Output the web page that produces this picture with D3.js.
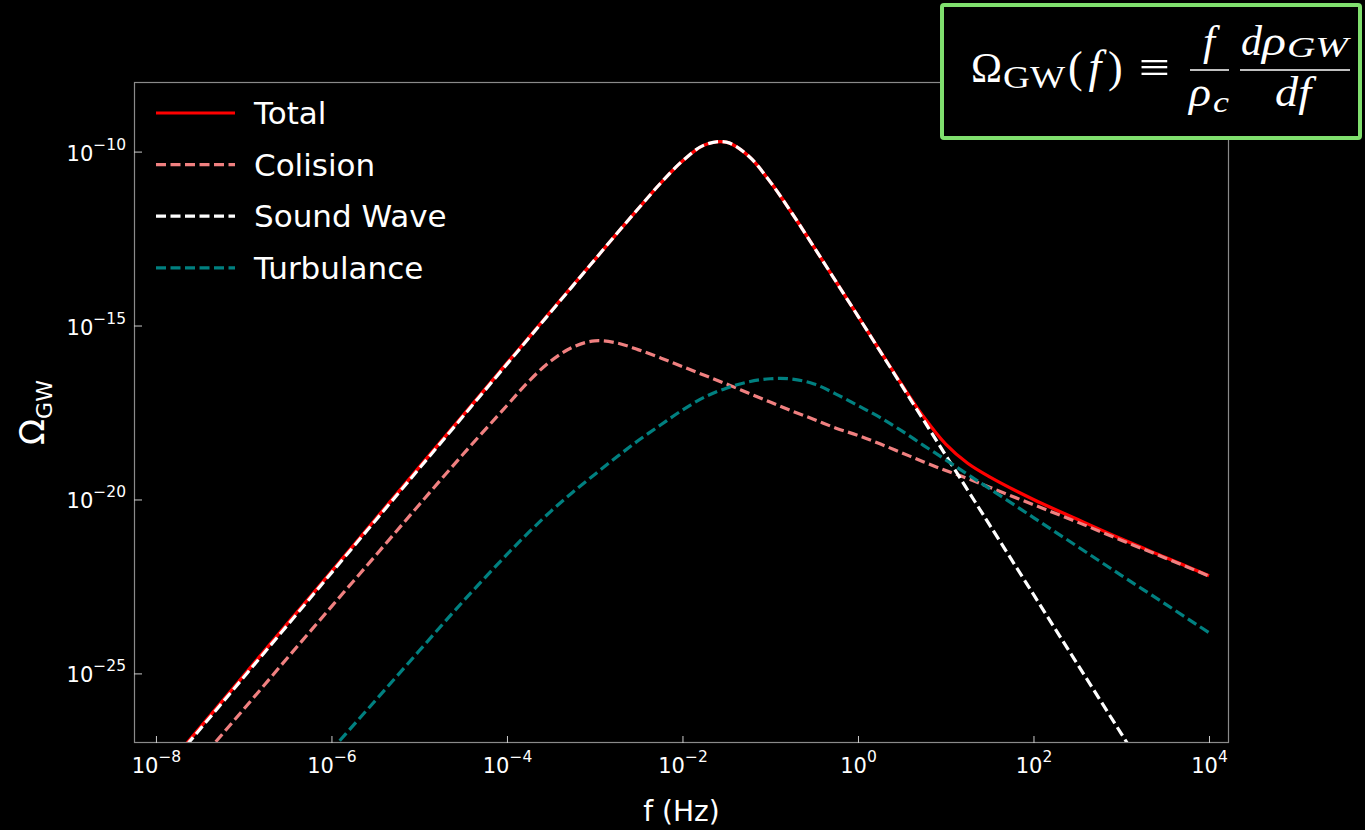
<!DOCTYPE html>
<html>
<head>
<meta charset="utf-8">
<script src="https://cdn.jsdelivr.net/npm/d3@7"></script>
<style>
  html, body { margin: 0; padding: 0; background: #000; }
  svg { display: block; }
</style>
</head>
<body>
<div id="graph"></div>
<script>
// log10 of the frequency (Hz) where the curves were read
const logFreq = [-8.5, -8, -7.5, -7, -6.5, -6, -5.5, -5, -4.5, -4, -3.75, -3.5, -3.25, -3, -2.75, -2.5, -2.25, -2, -1.75, -1.5,
  -1.25, -1, -0.75, -0.5, -0.25, 0, 0.25, 0.5, 0.75, 1, 1.25, 1.5, 2, 2.5, 3, 3.5, 4]

// log10 of Omega_GW for each series
const total = [-29.55, -28.06, -26.56, -25.06, -23.56, -22.07, -20.57, -19.07, -17.58, -16.08, -15.34, -14.59, -13.85, -13.11, -12.36, -11.63, -10.91, -10.27, -9.81, -9.73,
  -10.12, -10.87, -11.78, -12.75, -13.74, -14.73, -15.72, -16.70, -17.63, -18.41, -18.96, -19.35, -20.0, -20.57, -21.13, -21.66, -22.19]
const colision = [-30.45, -28.98, -27.5, -26.03, -24.55, -23.08, -21.62, -20.15, -18.7, -17.3, -16.6, -16.02, -15.62, -15.44, -15.5, -15.7, -15.93, -16.18, -16.43, -16.68,
  -16.94, -17.2, -17.46, -17.7, -17.95, -18.16, -18.4, -18.66, -18.92, -19.17, -19.4, -19.65, -20.15, -20.65, -21.17, -21.68, -22.2]
const soundWave = [-29.61, -28.11, -26.61, -25.11, -23.61, -22.11, -20.61, -19.11, -17.61, -16.11, -15.36, -14.61, -13.86, -13.11, -12.36, -11.63, -10.91, -10.27, -9.81, -9.73,
  -10.12, -10.87, -11.78, -12.75, -13.74, -14.73, -15.73, -16.73, -17.73, -18.73, -19.73, -20.73, -22.73, -24.73, -26.73, -28.73, -30.73]
const turbulance = [-34.5, -33.0, -31.5, -30.05, -28.62, -27.2, -25.78, -24.35, -22.93, -21.58, -20.94, -20.34, -19.79, -19.28, -18.78, -18.3, -17.86, -17.43, -17.06, -16.8,
  -16.62, -16.53, -16.54, -16.68, -16.97, -17.3, -17.64, -18.03, -18.45, -18.86, -19.28, -19.69, -20.52, -21.35, -22.18, -23.0, -23.83]

const xTickExp = [-8, -6, -4, -2, 0, 2, 4]
const yTickExp = [-10, -15, -20, -25]
const seriesNames = ['Total', 'Colision', 'Sound Wave', 'Turbulance']

const width = 1365
const height = 830
const margin = {top: 82, right: 136, bottom: 87, left: 134}
const font = '"DejaVu Sans", Verdana, sans-serif'
const mathFont = '"Liberation Serif", "DejaVu Serif", serif'

const series = [
  {name: seriesNames[0], values: total, color: '#ff0000', dash: null},
  {name: seriesNames[1], values: colision, color: '#f08080', dash: '10,4.5'},
  {name: seriesNames[2], values: soundWave, color: '#ffffff', dash: '10,4.5'},
  {name: seriesNames[3], values: turbulance, color: '#008080', dash: '10,4.5'}
]

const svg = d3.select('#graph')
  .append('svg')
  .attr('width', width)
  .attr('height', height)
  .style('background', '#000')

const xScale = d3.scaleLog()
  .domain([Math.pow(10, -8.25), Math.pow(10, 4.228)])
  .range([margin.left, width - margin.right])
const yScale = d3.scaleLog()
  .domain([1e-27, 1e-8])
  .range([height - margin.bottom, margin.top])

svg.append('clipPath').attr('id', 'plot-clip')
  .append('rect')
  .attr('x', margin.left)
  .attr('y', margin.top)
  .attr('width', width - margin.left - margin.right)
  .attr('height', height - margin.top - margin.bottom)

const line = d3.line()
  .x((d) => xScale(d.f))
  .y((d) => yScale(d.omega))
  .curve(d3.curveCatmullRom.alpha(0.5))

const curves = svg.append('g').attr('clip-path', 'url(#plot-clip)')
series.forEach((s) => {
  const pts = logFreq.map((e, i) => ({f: Math.pow(10, e), omega: Math.pow(10, s.values[i])}))
  curves.append('path')
    .datum(pts)
    .attr('d', line)
    .attr('fill', 'none')
    .attr('stroke', s.color)
    .attr('stroke-width', 3.2)
    .attr('stroke-dasharray', s.dash)
})

// frame
svg.append('rect')
  .attr('x', margin.left + 0.5)
  .attr('y', margin.top + 0.5)
  .attr('width', width - margin.left - margin.right - 1)
  .attr('height', height - margin.top - margin.bottom - 1)
  .attr('fill', 'none')
  .attr('stroke', '#8a8a8a')
  .attr('stroke-width', 1.2)

const supLabel = (sel, e) => {
  sel.text(null)
  sel.append('tspan').text('10')
  sel.append('tspan')
    .attr('dy', -11)
    .attr('font-size', 15.5)
    .text(e < 0 ? '\u2212' + Math.abs(e) : String(e))
}

const xAxis = d3.axisBottom(xScale)
  .tickValues(xTickExp.map((e) => Math.pow(10, e)))
  .tickSizeInner(-7)
  .tickSizeOuter(0)

const gx = svg.append('g')
  .attr('transform', `translate(0,${height - margin.bottom})`)
  .call(xAxis)
gx.select('.domain').remove()
gx.selectAll('.tick line').attr('stroke', '#cccccc')
gx.selectAll('.tick text')
  .attr('y', 30)
  .attr('dy', null)
  .attr('fill', '#fff')
  .attr('font-family', font)
  .attr('font-size', 21)
  .each(function (d, i) { supLabel(d3.select(this), xTickExp[i]) })

const yAxis = d3.axisLeft(yScale)
  .tickValues(yTickExp.map((e) => Math.pow(10, e)))
  .tickSizeInner(-8)
  .tickSizeOuter(0)

const gy = svg.append('g')
  .attr('transform', `translate(${margin.left},0)`)
  .call(yAxis)
gy.select('.domain').remove()
gy.selectAll('.tick line').attr('stroke', '#cccccc')
gy.selectAll('.tick text')
  .attr('x', -8)
  .attr('y', 8.5)
  .attr('dy', null)
  .attr('fill', '#fff')
  .attr('font-family', font)
  .attr('font-size', 21)
  .each(function (d, i) { supLabel(d3.select(this), yTickExp[i]) })

// axis titles
svg.append('text')
  .attr('x', (margin.left + width - margin.right) / 2)
  .attr('y', 821)
  .attr('text-anchor', 'middle')
  .attr('fill', '#fff')
  .attr('font-family', font)
  .attr('font-size', 28)
  .text('f (Hz)')

const yTitle = svg.append('text')
  .attr('transform', `translate(44,${(margin.top + height - margin.bottom) / 2}) rotate(-90)`)
  .attr('text-anchor', 'middle')
  .attr('fill', '#fff')
  .attr('font-family', font)
  .attr('font-size', 34)
yTitle.append('tspan').text('\u03A9')
yTitle.append('tspan').attr('dy', 8).attr('font-size', 22).text('GW')

// legend
const legend = svg.append('g')
series.forEach((s, i) => {
  const ly = 113 + i * 51.6
  legend.append('line')
    .attr('x1', 156).attr('x2', 235)
    .attr('y1', ly).attr('y2', ly)
    .attr('stroke', s.color)
    .attr('stroke-width', 3.2)
    .attr('stroke-dasharray', s.dash)
  legend.append('text')
    .attr('x', 254)
    .attr('y', ly)
    .attr('dy', '0.36em')
    .attr('fill', '#fff')
    .attr('font-family', font)
    .attr('font-size', 31)
    .text(s.name)
})

// formula box
const box = svg.append('g')
box.append('rect')
  .attr('x', 942).attr('y', 5)
  .attr('width', 418).attr('height', 133)
  .attr('rx', 2)
  .attr('fill', '#000')
  .attr('stroke', '#80df6e')
  .attr('stroke-width', 4)

const mtext = (x, y, size, txt, opts = {}) => {
  const t = box.append('text')
    .attr('x', x).attr('y', y)
    .attr('fill', '#fff')
    .attr('font-family', mathFont)
    .attr('font-size', size)
    .attr('font-style', opts.italic ? 'italic' : 'normal')
    .attr('text-anchor', opts.anchor || 'start')
    .text(txt)
  if (opts.len) t.attr('textLength', opts.len).attr('lengthAdjust', 'spacingAndGlyphs')
  return t
}

mtext(971, 82, 43, '\u03A9', {len: 31})
mtext(1003, 88, 32, 'GW', {len: 62})
mtext(1068, 82, 44, '(', {})
mtext(1095, 82, 46, 'f', {italic: true, anchor: 'middle'})
mtext(1108, 82, 44, ')', {})
mtext(1139, 82, 44, '\u2261', {len: 31})
mtext(1209, 55, 43, 'f', {italic: true, anchor: 'middle'})
mtext(1189, 106, 43, '\u03C1', {italic: true, len: 22})
mtext(1213, 112, 29, 'c', {italic: true, len: 16})
mtext(1241, 55, 43, 'd', {italic: true, len: 21})
mtext(1262, 55, 43, '\u03C1', {italic: true, len: 24})
mtext(1287, 57, 29, 'GW', {italic: true, len: 61})
mtext(1293, 106, 43, 'df', {italic: true, anchor: 'middle', len: 36})

box.append('line').attr('x1', 1190).attr('x2', 1229).attr('y1', 70).attr('y2', 70)
  .attr('stroke', '#fff').attr('stroke-width', 1.7)
box.append('line').attr('x1', 1240).attr('x2', 1350).attr('y1', 70).attr('y2', 70)
  .attr('stroke', '#fff').attr('stroke-width', 1.7)
</script>
</body>
</html>
